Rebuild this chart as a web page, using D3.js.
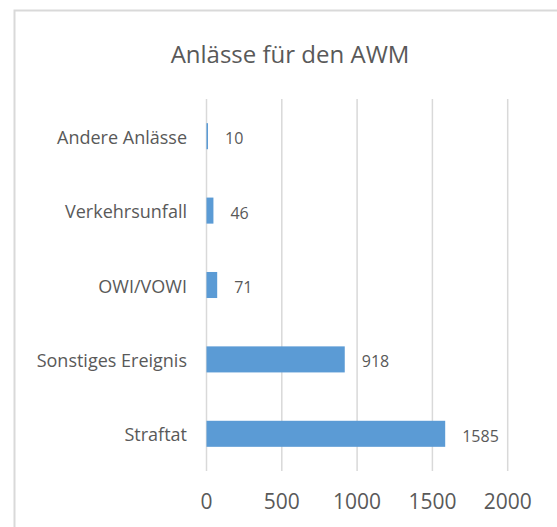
<!DOCTYPE html>
<html>
<head>
<meta charset="utf-8">
<script src="https://cdn.jsdelivr.net/npm/d3@7"></script>
<style>
  body { margin: 0; background: #fff; }
  text { font-family: "Open Sans", sans-serif; fill: #595959; }
</style>
</head>
<body>
<svg width="557" height="527"></svg>
<script>
(function () {

  // data, top to bottom as in the picture
  var categories = ['Andere Anlässe', 'Verkehrsunfall', 'OWI/VOWI', 'Sonstiges Ereignis', 'Straftat']
  var values = [10, 46, 71, 918, 1585]
  var ticks = [0, 500, 1000, 1500, 2000]
  var title = 'Anlässe für den AWM'

  var rows = categories.map((c, i) => ({ name: c, value: values[i] }))

  var svg = d3.select('svg')

  // chart frame (only left and top edges fall inside the picture)
  svg.append('rect')
    .attr('x', 14.5).attr('y', 10.5)
    .attr('width', 600).attr('height', 600)
    .attr('fill', 'none')
    .attr('stroke', '#d9d9d9')
    .attr('stroke-width', 2)

  var xScale = d3.scaleLinear().domain([0, 2000]).range([206.5, 507.7])
  var yScale = d3.scaleBand().domain(categories).range([99, 471])
    .paddingInner(0.65).paddingOuter(0.325)

  svg.append('text')
    .attr('x', 290).attr('y', 63)
    .attr('text-anchor', 'middle')
    .style('font-size', '24px')
    .text(title)

  // vertical gridlines
  svg.selectAll('.grid')
    .data(ticks)
    .enter().append('line')
    .attr('x1', d => xScale(d)).attr('x2', d => xScale(d))
    .attr('y1', 99).attr('y2', 471)
    .attr('stroke', '#d9d9d9')
    .attr('stroke-width', 1.5)

  // x axis labels
  svg.selectAll('.tick-label')
    .data(ticks)
    .enter().append('text')
    .attr('x', d => xScale(d))
    .attr('y', 509)
    .attr('text-anchor', 'middle')
    .style('font-size', '21px')
    .text(d => d)

  svg.selectAll('.bar')
    .data(rows)
    .enter().append('rect')
    .attr('x', xScale(0))
    .attr('y', d => yScale(d.name))
    .attr('width', d => xScale(d.value) - xScale(0))
    .attr('height', yScale.bandwidth())
    .attr('fill', '#5b9bd5')

  var mid = d => yScale(d.name) + yScale.bandwidth() / 2

  // category labels
  svg.selectAll('.cat')
    .data(rows)
    .enter().append('text')
    .attr('x', 187)
    .attr('y', d => mid(d) + 7.5)
    .attr('text-anchor', 'end')
    .style('font-size', '18px')
    .text(d => d.name)

  // value labels
  svg.selectAll('.val')
    .data(rows)
    .enter().append('text')
    .attr('x', d => xScale(d.value) + 17)
    .attr('y', d => mid(d) + 8)
    .style('font-size', '16px')
    .text(d => d.value)

})()
</script>
</body>
</html>
